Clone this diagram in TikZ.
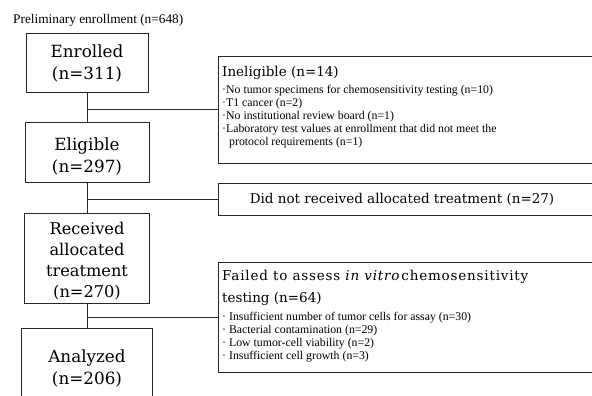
\documentclass[tikz,border=0pt]{standalone}
\usepackage{fontspec}
\setmainfont{DejaVu Serif}
\newfontfamily\smallfnt{Liberation Serif}
\newfontfamily\spacedfnt[LetterSpace=6]{DejaVu Serif}
\begin{document}
\begin{tikzpicture}[x=1pt,y=-1pt,
  box/.style={draw=black!85, line width=0.8pt, inner sep=0pt},
  big/.style={font=\fontsize{16.8}{22}\selectfont, align=center},
  head/.style={font=\fontsize{13.5}{15}\selectfont, anchor=west, inner sep=0pt},
  item/.style={font=\smallfnt\fontsize{11.8}{13}\selectfont, anchor=west, inner sep=0pt},
  conn/.style={draw=black!85, line width=0.8pt}]
\useasboundingbox (0,0) rectangle (592,396);
\clip (0,0) rectangle (592,396);
\fill[white] (0,0) rectangle (592,396);

\node[anchor=west, inner sep=0pt, font=\smallfnt\fontsize{13.3}{15}\selectfont] (title) at (13,20) {Preliminary enrollment (n=648)};

% left column
\node[box, minimum width=122, minimum height=59] (enr) at (87,62.5) {};
\node[big] (enrt) at (87,63) {Enrolled\\(n=311)};
\node[box, minimum width=124, minimum height=60] (elig) at (87,152.5) {};
\node[big] (eligt) at (87,156.5) {Eligible\\(n=297)};
\node[box, minimum width=125, minimum height=90] (recv) at (87,258) {};
\node[big, font=\fontsize{16.2}{21}\selectfont] (recvt) at (87,261) {Received\\allocated\\treatment\\(n=270)};
\node[box, minimum width=131, minimum height=84] (anal) at (87,370) {};
\node[big] (analt) at (87,368.5) {Analyzed\\(n=206)};

% right column
\node[box, anchor=north west, minimum width=380, minimum height=107] (inel) at (218,56) {};
\node[head] (inelt) at (222,73) {Ineligible (n=14)};
\node[item] (i1) at (222,90.5) {·No tumor specimens for chemosensitivity testing (n=10)};
\node[item] (i2) at (222,103.5) {·T1 cancer (n=2)};
\node[item] (i3) at (222,116.5) {·No institutional review board (n=1)};
\node[item] (i4) at (222,129.5) {·Laboratory test values at enrollment that did not meet the};
\node[item] (i5) at (229,142.5) {protocol requirements (n=1)};

\node[box, anchor=north west, minimum width=380, minimum height=32] (dnr) at (218,183) {};
\node[head, anchor=center] (dnrt) at (402,199) {Did not received allocated treatment (n=27)};

\node[box, anchor=north west, minimum width=380, minimum height=110] (fail) at (218,262) {};
\node[head, font=\spacedfnt\fontsize{13.5}{15}\selectfont] (f0) at (222,277) {Failed to assess \textit{in vitro}\hspace{1pt}chemosensitivity};
\node[head] (f0b) at (222,299) {testing (n=64)};
\node[item] (f1) at (222,317.5) {· Insufficient number of tumor cells for assay (n=30)};
\node[item] (f2) at (222,330.5) {· Bacterial contamination (n=29)};
\node[item] (f3) at (222,343.5) {· Low tumor-cell viability (n=2)};
\node[item] (f4) at (222,356.5) {· Insufficient cell growth (n=3)};

% connectors
\draw[conn] (enr.south) -- (elig.north);
\draw[conn] (elig.south) -- (recv.north);
\draw[conn] (recv.south) -- (anal.north);
\coordinate (j1) at (87,109);
\coordinate (j2) at (87,199);
\coordinate (j3) at (87,317);
\draw[conn] (j1) -- (j1 -| inel.west);
\draw[conn] (j2) -- (j2 -| dnr.west);
\draw[conn] (j3) -- (j3 -| fail.west);
\end{tikzpicture}
\end{document}
